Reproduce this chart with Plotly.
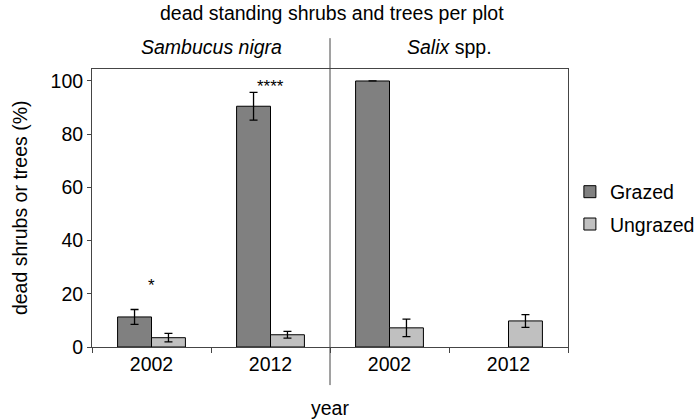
import plotly.graph_objects as go

# ---- data ----
years = ["2002", "2012", "2002", "2012"]
species = ["<i>Sambucus nigra</i>", "<i>Salix</i> spp."]
grazed = [11.3, 90.5, 100.0, None]
grazed_err = [2.8, 5.2, None, None]
ungrazed = [3.5, 4.6, 7.2, 9.8]
ungrazed_err = [1.6, 1.3, 3.3, 2.4]
signif = ["*", "****", "", ""]
signif_y = [23, 98, None, None]

xpos = list(range(len(years)))
FONT = "Liberation Sans, Arial, sans-serif"
FRAME = "#454545"
FS = 19.5

fig = go.Figure()
fig.add_trace(go.Bar(
    x=xpos, y=grazed, name="Grazed", legendgroup="g",
    marker=dict(color="#808080", line=dict(color="#000000", width=1)),
    error_y=dict(type="data", array=grazed_err, color="#000000", thickness=1.3, width=4),
))
fig.add_trace(go.Bar(
    x=xpos, y=ungrazed, name="Ungrazed", legendgroup="u",
    marker=dict(color="#c0c0c0", line=dict(color="#000000", width=1)),
    error_y=dict(type="data", array=ungrazed_err, color="#000000", thickness=1.3, width=4),
))

annotations = []
for i, (s, sy) in enumerate(zip(signif, signif_y)):
    if s:
        annotations.append(dict(x=xpos[i], y=sy, xref="x", yref="y", text=s,
                                showarrow=False, font=dict(size=17, color="#000")))
# species headers
n_per = len(years) // len(species)
for j, sp in enumerate(species):
    cx = (xpos[j * n_per] + xpos[j * n_per + n_per - 1]) / 2
    annotations.append(dict(x=cx, y=1.079, xref="x", yref="paper", text=sp,
                            showarrow=False, font=dict(size=FS, color="#000"),
                            yanchor="middle"))
# axis titles
annotations.append(dict(x=-0.151, y=0.5, xref="paper", yref="paper",
                        text="dead shrubs or trees (%)", textangle=-90,
                        xanchor="center", yanchor="middle",
                        showarrow=False, font=dict(size=FS, color="#000")))
annotations.append(dict(x=0.5, y=-0.219, xref="paper", yref="paper", text="year",
                        showarrow=False, font=dict(size=FS, color="#000"), yanchor="middle"))

fig.update_layout(
    width=697, height=420,
    margin=dict(l=92, r=129, t=69, b=73, autoexpand=False),
    paper_bgcolor="white", plot_bgcolor="white",
    font=dict(family=FONT, size=FS, color="#000"),
    title=dict(text="dead standing shrubs and trees per plot", x=0.476, xanchor="center",
               y=1 - 13 / 420, yanchor="middle", font=dict(size=FS, color="#000")),
    barmode="group", bargap=0.43, bargroupgap=0,
    showlegend=True,
    legend=dict(x=1.004, y=0.5, xanchor="left", yanchor="middle",
                font=dict(size=FS, color="#000"), itemwidth=30,
                traceorder="grouped", tracegroupgap=4,
                bgcolor="rgba(0,0,0,0)"),
    annotations=annotations,
    shapes=[dict(type="line", xref="x", yref="paper", x0=1.5, x1=1.5,
                 y0=-0.137, y1=1.111, line=dict(color=FRAME, width=1))],
)
fig.update_xaxes(
    range=[-0.5, len(years) - 0.5], tickmode="array", tickvals=xpos, ticktext=years,
    ticks="", showline=True, linecolor=FRAME, linewidth=1, mirror=True,
    showgrid=False, zeroline=False, tickfont=dict(size=FS),
    minor=dict(tickmode="array", tickvals=[i - 0.5 for i in range(len(years) + 1)],
               ticks="outside", ticklen=5, tickcolor=FRAME, showgrid=False),
)
fig.update_yaxes(
    range=[0, 104.5], tickvals=[0, 20, 40, 60, 80, 100], ticks="outside", ticklen=4,
    tickcolor=FRAME, showline=True, linecolor=FRAME, linewidth=1, mirror=True,
    showgrid=False, zeroline=False, tickfont=dict(size=FS),
)

fig.write_html("out.html", config={"displayModeBar": False},
               post_script="document.body.style.margin='0';")
